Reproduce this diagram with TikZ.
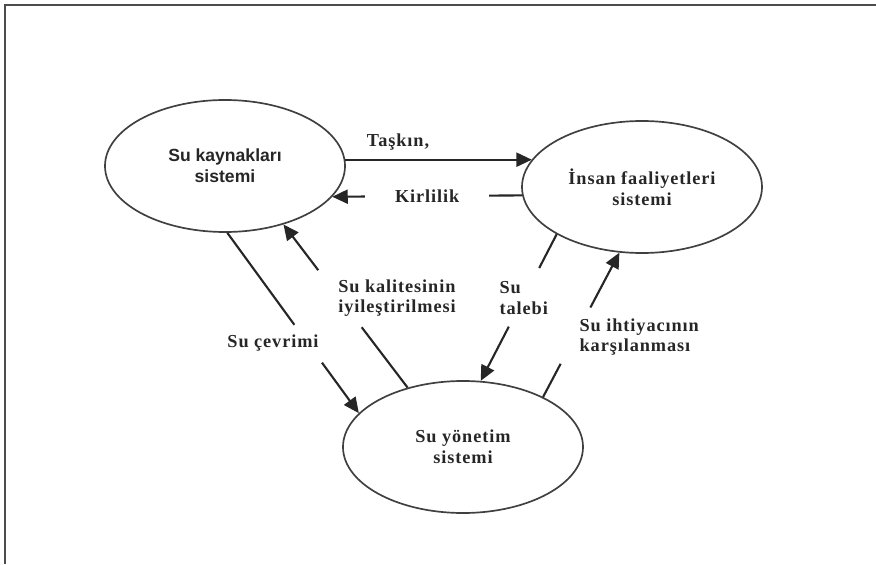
\documentclass[tikz,border=0pt]{standalone}
\usepackage{fontspec}
\setmainfont{Liberation Serif}
\newfontfamily\sysfont{Liberation Sans}
\newfontfamily\lblfont{Liberation Serif}[LetterSpace=5]
\usetikzlibrary{arrows.meta,calc,shapes.geometric}

\tikzset{
  sys/.style={ellipse, draw=black!75, line width=1.2pt, minimum width=6cm,
    minimum height=3.3cm, inner sep=0pt, align=center, text=black!85,
    font=\lblfont\bfseries\fontsize{13}{15}\selectfont},
  lbl/.style={align=left, inner sep=1pt, text=black!85,
    font=\lblfont\bfseries\fontsize{13}{14.5}\selectfont},
  plain/.style={line width=1.5pt, black!85},
  flow/.style={plain, -{Triangle[length=11pt,width=10pt]}}
}

\begin{document}
\begin{tikzpicture}
\useasboundingbox (0,0) rectangle (21.9,14.1);
% Frame
\draw [line width=1.4pt, black!70] (0.125,0) -- (0.125,13.975) -- (21.9,13.975);

% Systems
\node [sys, font=\sysfont\bfseries\fontsize{12.5}{15}\selectfont] (A) at (5.625,9.95) {Su kaynakları\\sistemi};
\node [sys] (B) at (16.05,9.425) {İnsan faaliyetleri\\sistemi};
\node [sys] (C) at (11.575,2.925) {Su yönetim\\sistemi};

% Taskin
\draw [flow] (A.3) -- (A.3 -| B.166);
\node [lbl] (taskin) at (9.95,10.55) {Taşkın,};

% Kirlilik
\draw [flow] (B.184) -- node [lbl, fill=white, inner xsep=0.75cm] (kirli) {Kirlilik} (A.-16);

% Su cevrimi
\draw [plain] (A.-88) -- ($(A.-88)!0.51!(C.162)$);
\draw [flow] ($(A.-88)!0.72!(C.162)$) -- (C.162);
\node [lbl] (cevrim) at (6.825,5.525) {Su çevrimi};

% Su kalitesi
\draw [plain] (C.133) -- ($(C.133)!0.37!(A.-45)$);
\draw [flow] ($(C.133)!0.72!(A.-45)$) -- (A.-45);
\node [lbl] (kalite) at (9.925,6.65) {Su kalitesinin\\iyileştirilmesi};

% Su talebi
\draw [plain] (B.209) -- ($(B.209)!0.23!(C.75)$);
\draw [flow] ($(B.209)!0.63!(C.75)$) -- (C.75);
\node [lbl, anchor=west] (talep) at (12.45,6.65) {Su\\talebi};

% Su ihtiyaci
\draw [plain] (C.32) -- ($(C.32)!0.23!(B.251)$);
\draw [flow] ($(C.32)!0.62!(B.251)$) -- (B.251);
\node [lbl, anchor=west] (ihtiyac) at (14.45,5.675) {Su ihtiyacının\\karşılanması};

\end{tikzpicture}
\end{document}
